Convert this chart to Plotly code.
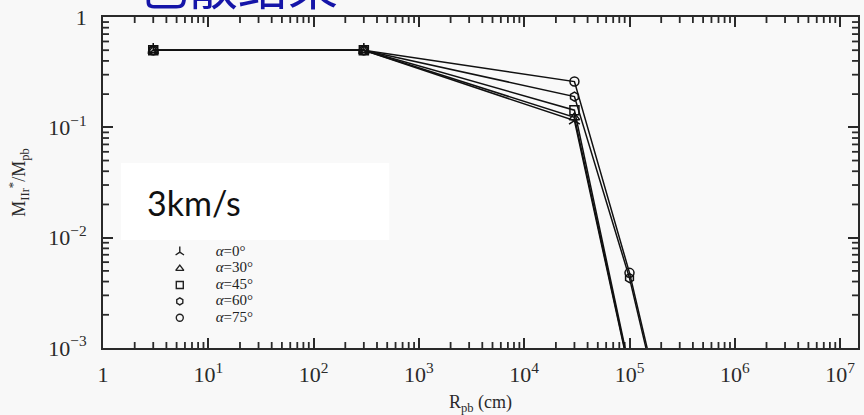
import plotly.graph_objects as go

# ---- data ----
radius_cm = [3, 300, 3e4, 1e5]
radius_cm_ext = [3, 300, 3e4, 1e5, 3e5]
ratio_a0 = [0.5, 0.5, 0.115, 6.0e-4]
ratio_a30 = [0.5, 0.5, 0.123, 6.2e-4]
ratio_a45 = [0.5, 0.5, 0.143, 6.5e-4]
ratio_a60 = [0.5, 0.5, 0.19, 0.0043, 5e-5]
ratio_a75 = [0.5, 0.5, 0.26, 0.0048, 5.5e-5]

legend_labels = ["<i>α</i>=0°", "<i>α</i>=30°", "<i>α</i>=45°", "<i>α</i>=60°", "<i>α</i>=75°"]
legend_symbols = ["y-up", "triangle-up-open", "square-open", "hexagon-open", "circle-open"]

x_tickvals = [1, 10, 100, 1e3, 1e4, 1e5, 1e6, 1e7]
x_ticktext = ["1", "10<sup>1</sup>", "10<sup>2</sup>", "10<sup>3</sup>", "10<sup>4</sup>",
              "10<sup>5</sup>", "10<sup>6</sup>", "10<sup>7</sup>"]
y_tickvals = [1e-3, 1e-2, 1e-1, 1]
y_ticktext = ["10<sup>−3</sup>", "10<sup>−2</sup>", "10<sup>−1</sup>", "1"]

X_RANGE = [0, 7.17]
Y_RANGE = [-3, 0]

x_minor = [float(m * 10 ** e) for e in range(0, 8) for m in range(2, 10)
           if m * 10 ** e < 10 ** X_RANGE[1]]
y_minor = [float(m * 10.0 ** e) for e in range(-3, 0) for m in range(2, 10)]

series = [
    (radius_cm, ratio_a0, legend_symbols[0]),
    (radius_cm, ratio_a30, legend_symbols[1]),
    (radius_cm, ratio_a45, legend_symbols[2]),
    (radius_cm_ext, ratio_a60, legend_symbols[3]),
    (radius_cm_ext, ratio_a75, legend_symbols[4]),
]

W, H = 864, 415
ml, mr, mt, mb = 103, 4, 17, 67
pw, ph = W - ml - mr, H - mt - mb

def px_x(p):
    return (p - ml) / pw

def px_y(p):
    return (H - mb - p) / ph

fig = go.Figure()

# minor ticks along the frame, as short segments derived from the minor tick lists
MINOR_PX = 6
dx = 10 ** (MINOR_PX * (X_RANGE[1] - X_RANGE[0]) / pw)
dy = 10 ** (MINOR_PX * (Y_RANGE[1] - Y_RANGE[0]) / ph)
x_lo, x_hi = 10 ** X_RANGE[0], 10 ** X_RANGE[1]
y_lo, y_hi = 10 ** Y_RANGE[0], 10 ** Y_RANGE[1]
seg_x, seg_y = [], []
for xm in x_minor:
    seg_x += [xm, xm, None, xm, xm, None]
    seg_y += [y_lo, y_lo * dy, None, y_hi, y_hi / dy, None]
for ym in y_minor:
    seg_x += [x_lo, x_lo * dx, None, x_hi, x_hi / dx, None]
    seg_y += [ym, ym, None, ym, ym, None]
fig.add_trace(go.Scatter(x=seg_x, y=seg_y, mode="lines", showlegend=False,
                         hoverinfo="skip", connectgaps=False,
                         line=dict(color="#2a2a2a", width=1.8)))

for xs, ys, sym in series:
    fig.add_trace(go.Scatter(
        x=xs, y=ys, mode="lines+markers", showlegend=False,
        line=dict(color="#111111", width=1.5),
        marker=dict(symbol=sym, size=9, color="#111111",
                    line=dict(color="#111111", width=1.5)),
    ))

# legend drawn on a small inset axis
fig.add_trace(go.Scatter(
    x=[1] * len(legend_labels), y=legend_labels, mode="markers",
    xaxis="x2", yaxis="y2", showlegend=False,
    marker=dict(symbol=legend_symbols, size=7, color="#222222",
                line=dict(color="#222222", width=1.4)),
))
fig.add_trace(go.Scatter(
    x=[4.6] * len(legend_labels), y=legend_labels, mode="text",
    text=legend_labels, textposition="middle right",
    xaxis="x2", yaxis="y2", showlegend=False,
    textfont=dict(family="Liberation Serif", size=15, color="#222222"),
))

axis_common = dict(
    showgrid=False, zeroline=False, showline=True, linecolor="#2a2a2a",
    linewidth=1.8, mirror="ticks", ticks="inside", ticklen=10, tickwidth=2,
    tickcolor="#2a2a2a",
    tickfont=dict(family="Liberation Serif", size=22, color="#2a2a2a"),
)

fig.update_layout(
    width=W, height=H,
    margin=dict(l=ml, r=mr, t=mt, b=mb),
    paper_bgcolor="#f8f8f8", plot_bgcolor="#f9f9f9",
    xaxis=dict(type="log", range=X_RANGE, tickvals=x_tickvals, ticktext=x_ticktext,
               ticklabelstandoff=6,
               title=dict(text="R<sub>pb</sub> (cm)", standoff=10,
                          font=dict(family="Liberation Serif", size=18, color="#2a2a2a")),
               **axis_common),
    yaxis=dict(type="log", range=Y_RANGE, tickvals=y_tickvals, ticktext=y_ticktext,
               ticklabelstandoff=10,
               title=dict(text="M<sub>IIr</sub><sup>*</sup>/M<sub>pb</sub>", standoff=18,
                          font=dict(family="Liberation Serif", size=18, color="#2a2a2a")),
               **axis_common),
    xaxis2=dict(domain=[px_x(170), px_x(270)], range=[0, 10], anchor="y2",
                visible=False, fixedrange=True),
    yaxis2=dict(domain=[px_y(326), px_y(244)], range=[4.5, -0.5], anchor="x2",
                type="category", categoryorder="array", categoryarray=legend_labels,
                visible=False, fixedrange=True),
    shapes=[dict(type="rect", xref="paper", yref="paper",
                 x0=px_x(121), x1=px_x(390), y0=px_y(240), y1=px_y(163),
                 fillcolor="white", line=dict(width=0), layer="above")],
    annotations=[
        dict(text="3km/s", xref="paper", yref="paper", x=px_x(145), y=px_y(202),
             xanchor="left", yanchor="middle", showarrow=False,
             font=dict(family="Lato", size=34, color="#111111")),
        dict(text="色散结果", xref="paper", yref="paper", x=px_x(136), y=px_y(21),
             xanchor="left", yanchor="bottom", showarrow=False,
             font=dict(family="Noto Sans CJK SC", size=50, color="#1515a8")),
    ],
)

fig.write_html("out.html")
